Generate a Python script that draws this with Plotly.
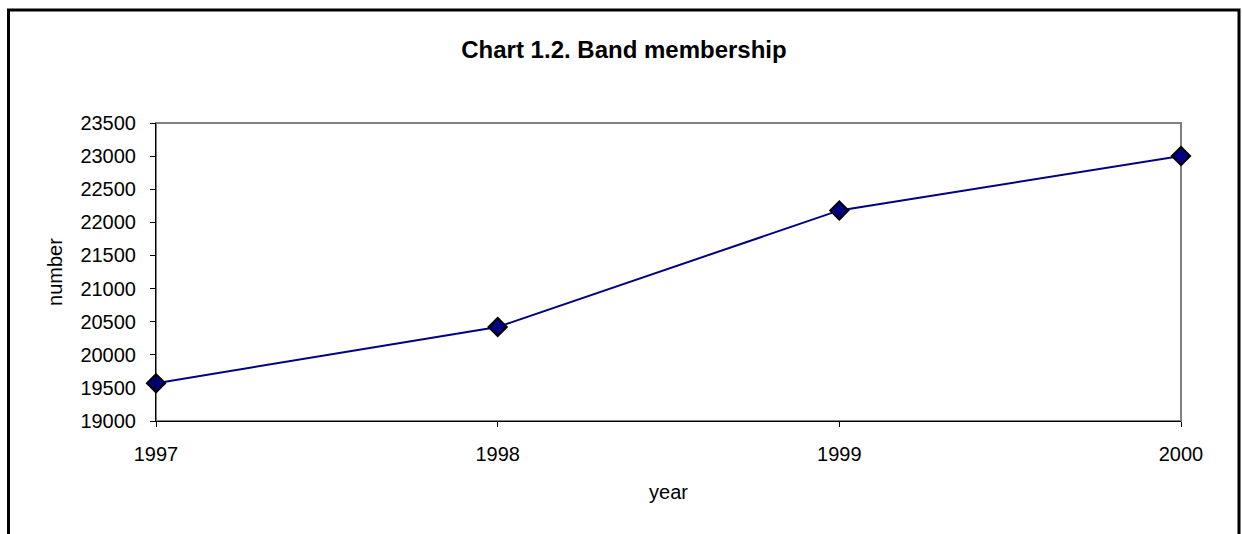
import plotly.graph_objects as go

years = [1997, 1998, 1999, 2000]
members = [19570, 20420, 22180, 23000]

W, H = 1242, 534
L, R, T, B = 156, 61, 123, 113
pw, ph = W - L - R, H - T - B

def px_x(x):
    return (x - L) / pw

def px_y(y):
    return (H - B - y) / ph

fig = go.Figure()
fig.add_trace(go.Scatter(
    x=years, y=members, mode="lines+markers",
    line=dict(color="#000080", width=2),
    marker=dict(symbol="diamond", size=14, color="#000080",
                line=dict(color="#000000", width=2)),
    cliponaxis=False, showlegend=False,
))

font = "Liberation Sans, Arial, sans-serif"
fig.update_layout(
    width=W, height=H,
    margin=dict(l=L, r=R, t=T, b=B),
    paper_bgcolor="white", plot_bgcolor="white",
    font=dict(family=font, size=20, color="#000000"),
    title=dict(text="<b>Chart 1.2. Band membership</b>", x=px_x(624), xref="paper",
               xanchor="center", y=1 - 50 / H, yanchor="middle",
               font=dict(size=24, family=font, color="#000000")),
    xaxis=dict(range=[1997, 2000], tickvals=years, ticktext=[str(y) for y in years],
               showgrid=False, zeroline=False, showline=True, linecolor="#000000",
               linewidth=1, ticks="outside", ticklen=5, tickcolor="#000000",
               ticklabelstandoff=10,
               title=dict(text="year", font=dict(size=20), standoff=20)),
    yaxis=dict(range=[19000, 23500], dtick=500, tick0=19000, tickformat="d",
               showgrid=False, zeroline=False, showline=True, linecolor="#000000",
               linewidth=1, ticks="outside", ticklen=5, tickcolor="#000000",
               ticklabelstandoff=10,
               title=dict(text="number", font=dict(size=20), standoff=12)),
    shapes=[
        dict(type="rect", xref="paper", yref="paper", x0=0, x1=1, y0=0, y1=1,
             line=dict(color="#808080", width=2), layer="below"),
        dict(type="rect", xref="paper", yref="paper",
             x0=px_x(8.5), x1=px_x(1239), y0=px_y(10), y1=px_y(560),
             line=dict(color="#000000", width=3)),
    ],
)
fig.write_html(
    "out.html",
    config={"displayModeBar": False},
    post_script="document.body.style.margin='0';document.body.style.overflow='hidden';",
)
